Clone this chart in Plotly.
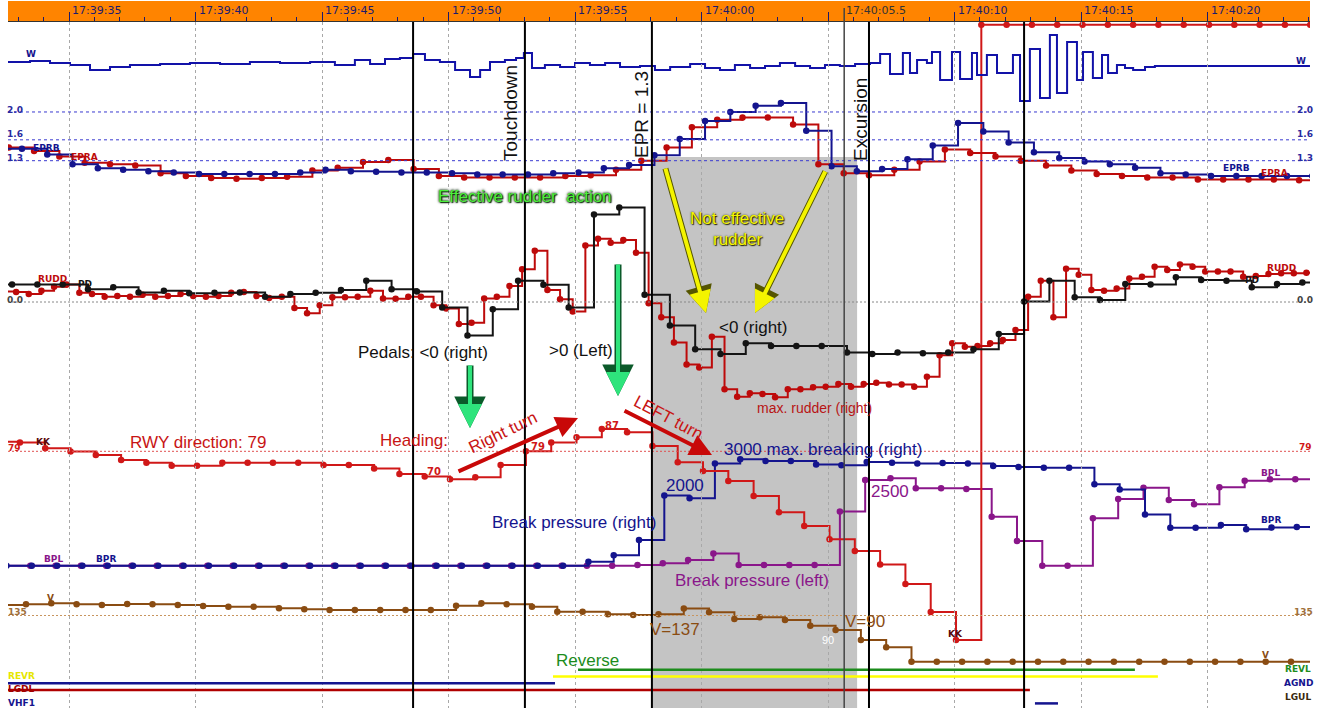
import numpy as np
import plotly.graph_objects as go

# ---------------- data (time = seconds after 17:39:35) ----------------
TICK_T = [0, 5, 10, 15, 20, 25, 30, 35, 40, 45]
TICK_TEXT = ["17:39:35", "17:39:40", "17:39:45", "17:39:50", "17:39:55",
             "17:40:00", "", "17:40:10", "17:40:15", "17:40:20"]
CURSOR_T = 30.64
CURSOR_TEXT = "17:40:05.5"
EVENT_T = [13.60, 18.02, 23.04, 31.62, 37.75]
GRAY_T = [23.04, 31.15]
EPR_REFS = [2.0, 1.6, 1.3]

# W (vertical load), irregular samples
W_T = [-2.41, -1.54, -0.75, 0.04, 0.83, 1.62, 2.41, 3.60, 4.78, 5.97,
       7.15, 8.34, 9.53, 10.51, 11.30, 11.90, 12.49, 13.08, 13.60, 14.07,
       14.66, 15.26, 15.85, 16.25, 16.64, 17.23, 17.67, 17.98, 18.30, 18.81,
       19.41, 20.00, 20.59, 21.19, 21.78, 22.57, 23.16, 23.76, 24.55, 25.14,
       25.73, 26.32, 26.92, 27.51, 28.10, 28.70, 29.29, 29.88, 30.47, 31.07,
       31.66, 32.06, 32.45, 32.96, 33.24, 33.52, 33.91, 34.11, 34.43, 34.90,
       35.22, 35.69, 35.89, 36.28, 36.68, 37.31, 37.59, 37.98, 38.38, 38.77,
       39.05, 39.45, 39.84, 40.08, 40.47, 40.83, 41.07, 41.42, 41.74, 42.06,
       42.53, 42.92, 49.05]
W_V = [1.03, 1.04, 1.02, 1.00, 0.95, 0.98, 1.00, 1.01, 1.02, 1.01,
       1.03, 1.02, 1.03, 1.00, 1.05, 1.01, 1.06, 1.07, 1.11, 1.05,
       1.03, 0.95, 0.88, 0.95, 1.03, 1.05, 1.07, 1.12, 0.97, 1.00,
       0.98, 1.02, 1.00, 1.02, 0.98, 0.99, 0.95, 0.98, 1.01, 0.97,
       0.95, 1.00, 0.97, 0.99, 1.02, 0.99, 0.97, 1.00, 0.99, 1.01,
       1.02, 1.11, 0.91, 1.12, 0.92, 1.05, 1.02, 1.13, 0.85, 1.13,
       0.86, 1.12, 0.90, 1.10, 0.92, 1.10, 0.64, 1.16, 0.67, 1.30,
       0.72, 1.23, 0.85, 1.13, 0.87, 1.10, 0.92, 1.00, 0.97, 0.95,
       0.98, 0.99, 0.99]

# 1 Hz parameters: first sample time + values
EPRB_T0 = -2.86
EPRB = [1.47, 1.47, 1.39, 1.25, 1.19, 1.17, 1.15, 1.13, 1.11, 1.11, 1.11, 1.11,
        1.13, 1.17, 1.15, 1.14, 1.13, 1.13, 1.12, 1.10, 1.10, 1.10, 1.12, 1.13,
        1.19, 1.24, 1.38, 1.61, 1.87, 2.00, 2.09, 2.13, 1.73, 1.22, 1.15, 1.18,
        1.32, 1.52, 1.84, 1.72, 1.56, 1.42, 1.34, 1.29, 1.25, 1.20, 1.12, 1.10,
        1.08, 1.08, 1.08, 1.08, 1.08]
EPRA_T0 = -2.38
EPRA = [1.49, 1.44, 1.36, 1.27, 1.25, 1.23, 1.12, 1.08, 1.05, 1.04, 1.05, 1.07,
        1.16, 1.20, 1.28, 1.31, 1.18, 1.08, 1.06, 1.06, 1.06, 1.06, 1.08, 1.09,
        1.17, 1.30, 1.49, 1.78, 1.89, 1.92, 1.92, 1.82, 1.25, 1.12, 1.09, 1.17,
        1.29, 1.46, 1.41, 1.36, 1.30, 1.23, 1.16, 1.11, 1.08, 1.06, 1.06, 1.03,
        1.03, 1.03, 1.03, 1.02, 1.02]
PD_T0 = -3.25
PD = [4.4, 4.4, 4.4, 4.4, 3.2, 3.7, 2.4, 2.8, 2.2, 2.3, 2.4, 1.3, 2.0, 2.3, 3.0,
      5.3, 3.2, 2.6, -1.4, -8.4, -1.8, 5.3, 4.3, -1.4, 21.9, 23.6, 1.8, -5.9,
      -11.8, -13.0, -10.3, -11.0, -11.0, -11.0, -12.6, -13.0, -12.6, -12.8,
      -12.6, -11.8, -8.0, 0.1, 5.3, 1.2, 0.5, 4.5, 4.4, 6.2, 5.5, 5.3, 3.7,
      4.5, 4.9, 4.9]
# rudder, 2 Hz
RUDD_T0 = -2.59
RUDD = [2.6, 2.5, 2.0, 2.8, 3.8, 4.4, 2.3, 2.0, 1.3, 1.5, 1.3, 1.8, 1.3, 1.5,
        2.0, 1.5, 1.3, 1.5, 2.3, 2.5, 1.5, 1.0, 1.3, -1.5, -2.8, -0.8, 1.2,
        1.2, 1.3, 2.8, 0.9, 0.8, 1.3, 1.3, -0.8, -1.6, -5.5, -5.2, 0.9, 1.3,
        4.0, 8.2, 12.8, 3.0, 0.7, -2.4, 14.1, 15.8, 14.8, 15.5, 12.3, -0.3,
        -3.8, -10.1, -15.6, -16.4, -8.7, -21.8, -23.7, -22.8, -23.0, -23.8,
        -21.8, -21.8, -21.3, -21.2, -20.5, -21.2, -20.5, -20.2, -20.6, -20.6,
        -21.2, -18.7, -13.3, -10.3, -11.2, -11.0, -10.3, -9.5, -7.0, 1.3, 5.3,
        -3.8, 8.3, 6.8, 3.0, 2.8, 3.4, 5.9, 6.3, 8.8, 8.0, 9.4, 8.8, 7.6, 7.6,
        7.6, 6.3, 6.5, 7.0, 7.2, 7.2, 7.3, 7.3]
KK_T0 = -2.94
KK = [82.4, 82.1, 80.1, 78.9, 77.7, 75.9, 74.9, 73.8, 73.8, 74.9, 74.9, 74.9,
      74.9, 74.1, 74.1, 72.9, 70.9, 70.0, 69.0, 69.7, 74.1, 79.0, 82.1, 84.0,
      87.0, 85.8, 80.9, 75.1, 72.0, 68.4, 63.0, 57.2, 52.3, 47.6, 43.4, 38.6,
      31.6, 21.6, 11.6] + [231.3] * 14
BPR_T0 = -2.47
BPR = [0] * 23 + [110, 300, 730, 2000, 1920, 2910, 3030, 2980, 2980, 2880, 2860,
                  2950, 2930, 2910, 2920, 2910, 2840, 2810, 2790, 2790, 2320,
                  2170, 1460, 1080, 1080, 1160, 1040, 1090, 1100, 1100]
BPL_T0 = -2.53
BPL = [0] * 24 + [0, 20, 70, 160, 350, 20, 20, 20, 20, 1540, 2440, 2490, 2200,
                  2200, 2180, 1390, 700, 0, 0, 1350, 1900, 2220, 1870, 1750,
                  2230, 2420, 2460, 2460, 2460]
V_T0 = -2.70
V = [165.7, 167.7, 170.6, 167.7, 165.7, 168.6, 167.7, 165.7, 162.7, 160.7,
     160.7, 156.0, 153.1, 151.1, 151.1, 151.1, 151.1, 151.1, 163.6, 170.6,
     167.7, 160.7, 146.1, 146.1, 138.5, 136.5, 138.5, 155.4, 144.3, 124.8,
     129.7, 121.9, 105.2, 92.7, 63.5, 42.1] + [0] * 17

# discrete parameters (lanes, bottom -> top) and active intervals
DISC_ORDER = ["VHF1", "LGUL", "LGDL", "AGND", "REVR", "REVL"]
DISC_ON = {"AGND": (-2.45, 19.21), "LGDL": (-2.45, 37.98),
           "REVR": (19.13, 43.04), "REVL": (20.12, 42.13),
           "VHF1": (38.18, 39.09)}

# ---------------- styling ----------------
NAVY = "#14148e"
RED = "#bd0a0a"
HRED = "#d01818"
PURPLE = "#8a168a"
BROWN = "#8a4c12"
BLACK = "#141414"
BIG = "Liberation Sans, Arial, sans-serif"
SMALL = "DejaVu Sans, Verdana, sans-serif"
DISC_COLOR = {"AGND": NAVY, "LGDL": "#b00000", "REVR": "#ffff00",
              "REVL": "#1c8c1c", "VHF1": NAVY}

W_PX, H_PX = 1323, 708
PL, PR, PT, PB = 8, 1310, 22, 708
S0, PXS = 69.0, 25.3  # px of 17:39:35, px per second
X_RANGE = [(PL - S0) / PXS, (PR - S0) / PXS]


def yr(v_ref, y_ref, px_per_unit):
    return [v_ref - (PB - y_ref) / px_per_unit, v_ref + (y_ref - PT) / px_per_unit]


def P(xp, yp):
    return (xp - PL) / (PR - PL), (PB - yp) / (PB - PT)


def times(t0, n, dt=1.0):
    return [round(float(t0 + i * dt), 3) for i in range(n)]


fig = go.Figure()


def step(t, v, color, axis, marker=True, width=2, size=6.5):
    fig.add_trace(go.Scatter(
        x=list(t), y=[float(a) for a in v],
        mode="lines+markers" if marker else "lines",
        line=dict(color=color, width=width, shape="hv"),
        marker=dict(size=size, color=color), yaxis=axis,
        showlegend=False, hoverinfo="skip"))


step(times(V_T0, len(V)), V, BROWN, "y2")
step(times(BPL_T0, len(BPL)), BPL, PURPLE, "y3")
step(times(BPR_T0, len(BPR)), BPR, NAVY, "y3")
step(times(KK_T0, len(KK)), KK, HRED, "y4")
step(times(RUDD_T0, len(RUDD), 0.5), RUDD, RED, "y5")
step(times(PD_T0, len(PD)), PD, BLACK, "y5")
step(times(EPRA_T0, len(EPRA)), EPRA, RED, "y6")
step(times(EPRB_T0, len(EPRB)), EPRB, NAVY, "y6")
step(W_T, W_V, "#1212a8", "y7", marker=False, width=2)
fig.add_trace(go.Scatter(x=[-10] * len(DISC_ORDER), y=DISC_ORDER, mode="markers",
                         marker=dict(opacity=0), yaxis="y8", showlegend=False,
                         hoverinfo="skip"))
for name, (a, b) in DISC_ON.items():
    fig.add_trace(go.Scatter(x=[a, b], y=[name, name], mode="lines",
                             line=dict(color=DISC_COLOR[name], width=2.5),
                             yaxis="y8", showlegend=False, hoverinfo="skip"))

# ---------------- shapes ----------------
shapes = []
shapes.append(dict(type="rect", xref="paper", yref="paper", x0=0, x1=1,
                   y0=1.0, y1=1 + 21 / (PB - PT), fillcolor="#ff8400",
                   line=dict(width=0), layer="below"))
shapes.append(dict(type="rect", xref="x", yref="paper", x0=GRAY_T[0], x1=GRAY_T[1],
                   y0=0, y1=P(0, 157)[1], fillcolor="#c4c4c4",
                   line=dict(width=0), layer="below"))
for v in EPR_REFS:
    shapes.append(dict(type="line", xref="paper", yref="y6", x0=0, x1=1, y0=v, y1=v,
                       line=dict(color="#3a3ad0", width=1, dash="3px,3px")))
shapes.append(dict(type="line", xref="paper", yref="y5", x0=0, x1=1, y0=0, y1=0,
                   line=dict(color="#888888", width=1, dash="2px,2px")))
shapes.append(dict(type="line", xref="paper", yref="y4", x0=0, x1=1, y0=79, y1=79,
                   line=dict(color="#e05050", width=1, dash="2px,2px")))
shapes.append(dict(type="line", xref="paper", yref="y2", x0=0, x1=1, y0=135, y1=135,
                   line=dict(color="#c8955f", width=1, dash="2px,2px")))
for t in EVENT_T:
    shapes.append(dict(type="line", xref="x", yref="paper", x0=t, x1=t, y0=0, y1=1,
                       line=dict(color="black", width=2), layer="above"))
shapes.append(dict(type="line", xref="x", yref="paper", x0=CURSOR_T, x1=CURSOR_T,
                   y0=0, y1=1 + 14 / (PB - PT), line=dict(color="#444444", width=1.5),
                   layer="above"))

# ---------------- annotations ----------------
ann = []


def txt(s, xp, yp, color, size, angle=0, family=BIG, shadow=None, bold=False,
        xanchor="center"):
    x, y = P(xp, yp)
    font = dict(color=color, size=size, family=family)
    if shadow:
        font["shadow"] = shadow
    if bold:
        font["weight"] = "bold"
    ann.append(dict(text=s, x=x, y=y, xref="paper", yref="paper", showarrow=False,
                    xanchor=xanchor, yanchor="middle", textangle=angle, font=font))


def arrow(xh, yh, xt, yt, color, width, size=1.0, head=2):
    x, y = P(xh, yh)
    ann.append(dict(text="", x=x, y=y, xref="paper", yref="paper", ax=xt - xh,
                    ay=yt - yh, showarrow=True, arrowhead=head, arrowsize=size,
                    arrowwidth=width, arrowcolor=color))


for t, s in zip(TICK_T, TICK_TEXT):
    if s:
        ann.append(dict(text=s, x=t, y=P(0, 11)[1], xref="x", yref="paper",
                        showarrow=False, xanchor="left", yanchor="middle", xshift=1,
                        font=dict(color="#1b1b6e", size=11, family=SMALL)))
ann.append(dict(text=CURSOR_TEXT, x=CURSOR_T, y=P(0, 11)[1], xref="x", yref="paper",
                showarrow=False, xanchor="left", yanchor="middle", xshift=0,
                font=dict(color="#333333", size=11, family=SMALL)))


def lbl(s, xp, yp, color, size=9):
    txt(s, xp, yp, color, size, family=SMALL, bold=True)


lbl("W", 31, 54, NAVY); lbl("W", 1301, 61, NAVY)
lbl("2.0", 15, 110, "#2a2aa0"); lbl("1.6", 15, 134, "#2a2aa0"); lbl("1.3", 15, 158, "#2a2aa0")
lbl("2.0", 1305, 110, "#2a2aa0"); lbl("1.6", 1305, 134, "#2a2aa0"); lbl("1.3", 1305, 158, "#2a2aa0")
lbl("EPRB", 46, 148, NAVY); lbl("EPRA", 84, 157, RED)
lbl("EPRB", 1236, 168, NAVY); lbl("EPRA", 1274, 173, RED)
lbl("RUDD", 52, 279, RED); lbl("PD", 85, 284, BLACK)
lbl("RUDD", 1281, 268, RED); lbl("PD", 1252, 280, BLACK)
lbl("0.0", 15, 300, "#444444"); lbl("0.0", 1305, 300, "#444444")
lbl("KK", 43, 442, "#5a0a0a"); lbl("KK", 956, 634, "#5a0a0a")
lbl("79", 14, 448, HRED); lbl("79", 1305, 447, HRED)
lbl("BPL", 53, 559, PURPLE); lbl("BPR", 106, 559, NAVY)
lbl("BPL", 1270, 473, PURPLE); lbl("BPR", 1271, 520, NAVY)
lbl("V", 50, 598, BROWN); lbl("V", 1265, 655, BROWN)
lbl("135", 17, 612, "#a0703a"); lbl("135", 1303, 612, "#a0703a")
txt("REVR", 21, 676, "#e6e600", 9, family=SMALL, bold=True)
lbl("LGDL", 21, 689, "#a00000"); lbl("VHF1", 21, 703, NAVY)
lbl("REVL", 1298, 669, "#1c8c1c"); lbl("AGND", 1298, 683, NAVY); lbl("LGUL", 1298, 697, "#3a2a10")
lbl("70", 434, 471, HRED, 10); lbl("79", 538, 446, HRED, 10); lbl("87", 612, 425, HRED, 10)

arrow(470, 428, 470, 364, "#0b5a2a", 7, 0.9)
arrow(470, 428, 470, 364, "#2ee47c", 4, 1.2)
arrow(618, 396, 618, 263, "#0b5a2a", 7, 0.9)
arrow(618, 396, 618, 263, "#2ee47c", 4, 1.2)
arrow(706, 313, 665, 167, "#555500", 6, 0.9)
arrow(706, 313, 665, 167, "#f4f400", 4, 1.1)
arrow(755, 313, 826, 170, "#555500", 6, 0.9)
arrow(755, 313, 826, 170, "#f4f400", 4, 1.1)
arrow(578, 418, 457, 472, "#c80808", 4, 1.1)
arrow(712, 455, 623, 410, "#c80808", 4, 1.1)

GLOW_G = "0px 0px 2px #0a2a0a, 0px 0px 3px #0a2a0a, 1px 1px 1px #0a2a0a"
GLOW_Y = "0px 0px 2px #303000, 1px 1px 1px #202000"
txt("Touchdown", 510, 113, "#111111", 19, angle=-90)
txt("EPR = 1.3", 641, 115, "#111111", 19, angle=-90)
txt("Excursion", 860, 120, "#111111", 19, angle=-90)
txt("Effective rudder  action", 525, 197, "#4cf03a", 17, shadow=GLOW_G)
txt("Not effective", 737, 218, "#f6f600", 17, shadow=GLOW_Y)
txt("rudder", 737, 239, "#f6f600", 17, shadow=GLOW_Y)
txt("<0 (right)", 753, 328, "#111111", 17)
txt("Pedals: <0 (right)", 423, 352, "#111111", 17)
txt(">0 (Left)", 581, 350, "#111111", 17)
txt("RWY direction: 79", 198, 442, "#c81414", 17)
txt("Heading:", 414, 440, "#c81414", 17)
txt("Right turn", 503, 432, "#c81414", 17, angle=-26)
txt("LEFT turn", 668, 417, "#c81414", 17, angle=28)
txt("max. rudder (right)", 814, 408, "#b81414", 14)
txt("3000 max. breaking (right)", 823, 449, NAVY, 17)
txt("2000", 685, 486, NAVY, 17)
txt("Break pressure (right)", 574, 522, NAVY, 17)
txt("2500", 890, 491, PURPLE, 17)
txt("Break pressure (left)", 752, 580, PURPLE, 17)
txt("V=137", 675, 629, BROWN, 17)
txt("V=90", 865, 621, BROWN, 17)
txt("90", 828, 640, "white", 11)
txt("Reverse", 587, 660, "#1c8c1c", 17)

# ---------------- layout ----------------
hidden = dict(overlaying="y", showgrid=False, zeroline=False, showticklabels=False,
              ticks="", showline=False, fixedrange=True, anchor="x")
fig.update_layout(
    width=W_PX, height=H_PX,
    margin=dict(l=PL, r=W_PX - PR, t=PT, b=H_PX - PB),
    paper_bgcolor="white", plot_bgcolor="rgba(0,0,0,0)", showlegend=False,
    xaxis=dict(range=X_RANGE, side="top", tickmode="array", tickvals=TICK_T,
               showticklabels=False, ticks="outside", ticklen=9, tickwidth=1,
               tickcolor="#1b1b6e", showgrid=True, gridcolor="#a8a8a8",
               griddash="dot", gridwidth=1, zeroline=False, showline=True,
               linecolor="#333333", linewidth=1, fixedrange=True,
               minor=dict(tickmode="linear", tick0=0, dtick=1, ticks="outside",
                          ticklen=4, tickcolor="#1b1b6e", showgrid=False)),
    yaxis=dict(range=yr(0, 696.7, 13.717), tickmode="linear", tick0=0, dtick=1,
               showgrid=True, gridcolor="#b4b4b4", griddash="dot", gridwidth=1,
               showticklabels=False, ticks="", zeroline=False, showline=True,
               linecolor="#222222", linewidth=2, fixedrange=True),
    yaxis2=dict(range=yr(135, 615.5, 1 / 2.92), **hidden),
    yaxis3=dict(range=yr(0, 565.7, 1 / 28.45), **hidden),
    yaxis4=dict(range=yr(79, 451.3, 2.8), **hidden),
    yaxis5=dict(range=yr(0, 302, 4.0), **hidden),
    yaxis6=dict(range=yr(1.3, 160.7, 69.6), **hidden),
    yaxis7=dict(range=yr(1.0, 65, 100.0), **hidden),
    yaxis8=dict(range=yr(0, 703.4, 6.75), type="category", categoryorder="array",
                categoryarray=DISC_ORDER, **hidden),
    shapes=shapes, annotations=ann,
)

fig.write_html("out.html", config={"displayModeBar": False},
               post_script="document.body.style.margin='0px';document.body.style.overflow='hidden';")
